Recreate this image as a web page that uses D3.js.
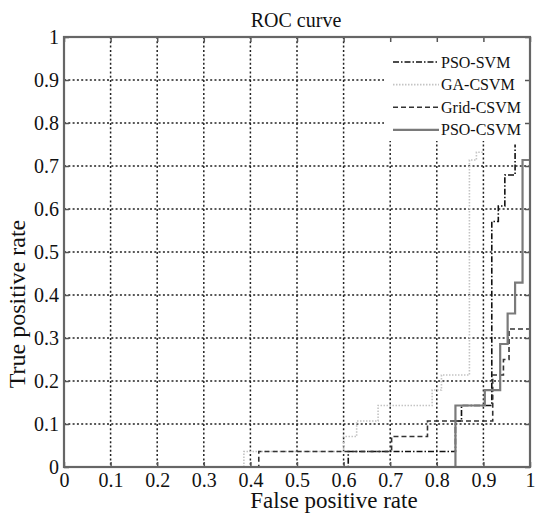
<!DOCTYPE html>
<html>
<head>
<meta charset="utf-8">
<script src="https://cdn.jsdelivr.net/npm/d3@7"></script>
<style>
  body { margin: 0; background: #fff; }
  text { font-family: "Liberation Serif", "Times New Roman", serif; fill: #111; }
</style>
</head>
<body>
<div id="chart"></div>
<script>
// ---------------------- data ----------------------
var ticks = [0, 0.1, 0.2, 0.3, 0.4, 0.5, 0.6, 0.7, 0.8, 0.9, 1];
var tickLabels = ["0", "0.1", "0.2", "0.3", "0.4", "0.5", "0.6", "0.7", "0.8", "0.9", "1"];
var seriesNames = ["PSO-SVM", "GA-CSVM", "Grid-CSVM", "PSO-CSVM"];

var psoSvmX = [0, 0.61, 0.61, 0.84, 0.84, 0.853, 0.853, 0.918, 0.918, 0.932, 0.932, 0.946, 0.946, 0.968, 0.968];
var psoSvmY = [0, 0, 0.036, 0.036, 0.107, 0.107, 0.143, 0.143, 0.571, 0.571, 0.607, 0.607, 0.679, 0.679, 0.75];

var gaX = [0, 0.386, 0.386, 0.6, 0.6, 0.628, 0.628, 0.674, 0.674, 0.79, 0.79, 0.81, 0.81, 0.87, 0.87, 0.885, 0.885, 0.9];
var gaY = [0, 0, 0.036, 0.036, 0.071, 0.071, 0.107, 0.107, 0.143, 0.143, 0.179, 0.179, 0.214, 0.214, 0.714, 0.714, 0.732, 0.732];

var gridX = [0, 0.418, 0.418, 0.703, 0.703, 0.78, 0.78, 0.92, 0.92, 0.943, 0.943, 0.955, 0.955, 1];
var gridY = [0, 0, 0.036, 0.036, 0.071, 0.071, 0.107, 0.107, 0.214, 0.214, 0.25, 0.25, 0.321, 0.321];

var psoCsvmX = [0, 0.84, 0.84, 0.903, 0.903, 0.936, 0.936, 0.952, 0.952, 0.968, 0.968, 0.984, 0.984, 1];
var psoCsvmY = [0, 0, 0.143, 0.143, 0.179, 0.179, 0.286, 0.286, 0.357, 0.357, 0.429, 0.429, 0.714, 0.714];

// ---------------------- setup ----------------------
var W = 539, H = 514;
var plotL = 64, plotR = 530, plotT = 37, plotB = 467;

var svg = d3.select("#chart")
     .append("svg")
     .attr("width", W)
     .attr("height", H);

var x = d3.scaleLinear().domain([0, 1]).range([plotL, plotR]);
var y = d3.scaleLinear().domain([0, 1]).range([plotB, plotT]);

// grid (dotted)
svg.append("g").selectAll("line")
     .data(ticks.slice(1, -1))
     .enter()
     .append("line")
     .attr("x1", d => x(d)).attr("x2", d => x(d))
     .attr("y1", plotT).attr("y2", plotB)
     .attr("stroke", "#222").attr("stroke-width", 1.5)
     .attr("stroke-dasharray", "2,2.3");
svg.append("g").selectAll("line")
     .data(ticks.slice(1, -1))
     .enter()
     .append("line")
     .attr("y1", d => y(d)).attr("y2", d => y(d))
     .attr("x1", plotL).attr("x2", plotR)
     .attr("stroke", "#222").attr("stroke-width", 1.5)
     .attr("stroke-dasharray", "2,2.3");

// legend background hides the grid behind it
svg.append("rect")
     .attr("x", 384).attr("y", plotT)
     .attr("width", plotR - 384).attr("height", 141 - plotT)
     .attr("fill", "#fff");

// axes with ticks pointing inside
var fmt = (d, i) => tickLabels[i];
svg.append("g").attr("transform", "translate(0," + plotB + ")")
     .call(d3.axisBottom(x).tickValues(ticks).tickFormat(fmt).tickSizeInner(-5).tickSizeOuter(0).tickPadding(6))
     .call(g => g.select(".domain").remove());
svg.append("g").attr("transform", "translate(0," + plotT + ")")
     .call(d3.axisTop(x).tickValues(ticks).tickFormat("").tickSizeInner(-5).tickSizeOuter(0))
     .call(g => g.select(".domain").remove());
svg.append("g").attr("transform", "translate(" + plotL + ",0)")
     .call(d3.axisLeft(y).tickValues(ticks).tickFormat(fmt).tickSizeInner(-5).tickSizeOuter(0).tickPadding(5))
     .call(g => g.select(".domain").remove());
svg.append("g").attr("transform", "translate(" + plotR + ",0)")
     .call(d3.axisRight(y).tickValues(ticks).tickFormat("").tickSizeInner(-5).tickSizeOuter(0))
     .call(g => g.select(".domain").remove());

svg.selectAll(".tick line").attr("stroke", "#555").attr("stroke-width", 1.5);
svg.selectAll(".tick text")
     .style("font-family", "Liberation Serif")
     .style("font-size", "20px")
     .attr("fill", "#111");

// curves
var line = d3.line().x(d => x(d[0])).y(d => y(d[1]));
function pts(xs, ys) { return xs.map((v, i) => [v, ys[i]]); }

var curves = [
  { name: seriesNames[0], data: pts(psoSvmX, psoSvmY), color: "#111", width: 1.6, dash: "6,2,1.5,2" },
  { name: seriesNames[1], data: pts(gaX, gaY), color: "#c4c4c4", width: 1.6, dash: "1.5,1.5" },
  { name: seriesNames[2], data: pts(gridX, gridY), color: "#333", width: 1.6, dash: "5,3" },
  { name: seriesNames[3], data: pts(psoCsvmX, psoCsvmY), color: "#7a7a7a", width: 2.2, dash: null }
];

svg.append("g").selectAll("path")
     .data(curves)
     .enter()
     .append("path")
     .attr("d", d => line(d.data))
     .attr("fill", "none")
     .attr("stroke", d => d.color)
     .attr("stroke-width", d => d.width)
     .attr("stroke-dasharray", d => d.dash);

// frame
svg.append("rect")
     .attr("x", plotL).attr("y", plotT)
     .attr("width", plotR - plotL).attr("height", plotB - plotT)
     .attr("fill", "none").attr("stroke", "#666").attr("stroke-width", 2.2);

// legend
var leg = svg.append("g").selectAll("g")
     .data(curves)
     .enter()
     .append("g")
     .attr("transform", (d, i) => "translate(0," + (62 + i * 22.6) + ")");
leg.append("line")
     .attr("x1", 393).attr("x2", 439).attr("y1", 0).attr("y2", 0)
     .attr("stroke", d => d.color)
     .attr("stroke-width", d => d.width)
     .attr("stroke-dasharray", d => d.dash);
leg.append("text")
     .text(d => d.name)
     .attr("x", 441).attr("y", 5.5)
     .style("font-size", "16px");

// titles
svg.append("text").text("ROC curve")
     .attr("x", 296).attr("y", 27)
     .attr("text-anchor", "middle")
     .style("font-size", "20px");
svg.append("text").text("False positive rate")
     .attr("x", 334).attr("y", 508)
     .attr("text-anchor", "middle")
     .style("font-size", "23px");
svg.append("text").text("True positive rate")
     .attr("transform", "translate(25,304) rotate(-90)")
     .attr("text-anchor", "middle")
     .style("font-size", "24px");
</script>
</body>
</html>
